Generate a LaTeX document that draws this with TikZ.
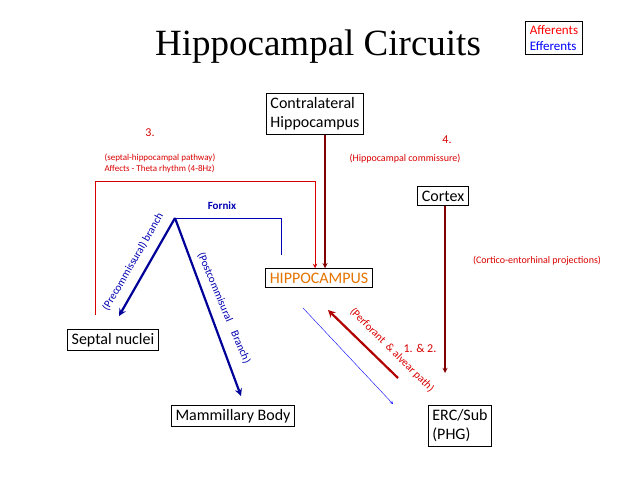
\documentclass[tikz,border=0pt]{standalone}
\usepackage{fontspec}
\setmainfont{Carlito}
\newfontfamily\titlefont{Liberation Serif}
\begin{document}
\begin{tikzpicture}[x=1pt,y=-1pt,
  box/.style={draw,line width=1pt,inner sep=4pt,font=\fontsize{16}{19}\selectfont,align=left},
  lab/.style={font=\fontsize{10}{12}\selectfont,text=red!85!black},
  blab/.style={font=\fontsize{11}{12}\selectfont,text=blue!70!black},
  rd/.style={red!85!black,line width=1pt},
  br/.style={red!50!black,line width=1.3pt}]
\useasboundingbox (0,0) rectangle (638,479);
\node[font=\titlefont\fontsize{37}{40}\selectfont] (title) at (318,47) {Hippocampal Circuits};
\node[draw,line width=1pt,align=left,font=\fontsize{13}{16}\selectfont,inner sep=4pt] (leg) at (554,38) {\textcolor{red}{Afferents}\\\textcolor{blue}{Efferents}};
\node[box] (contra) at (315,114) {Contralateral\\Hippocampus};
\node[box] (cortex) at (443,196) {Cortex};
\node[box,text=orange!90!black] (hipp) at (319,278) {HIPPOCAMPUS};
\node[box] (sept) at (113,340) {Septal nuclei};
\node[box] (mam) at (233,416) {Mammillary Body};
\node[box] (erc) at (460,426) {ERC/Sub\\(PHG)};
\coordinate (s0) at (95,315);
\coordinate (s1) at (95,181);
\coordinate (s2) at (315,181);
\draw[rd,-stealth] (s0) -- (s1) -- (s2) -- (s2 |- hipp.north);
\coordinate (c0) at (325,137);
\draw[br,-stealth] (c0 |- contra.south) -- (c0 |- hipp.north);
\coordinate (fx) at (175,218);
\draw[blue!70!black,line width=1pt] (fx) -- (281,218) -- (281,255);
\draw[blue!60!black,line width=2.2pt,-stealth] (fx) -- (119,316);
\draw[blue!60!black,line width=2.2pt,-stealth] (fx) -- (241,396);
\draw[blue,-stealth] (303,308) -- (393,404);
\draw[red!70!black,line width=2.2pt,-stealth] (398,378) -- (328,310);
\coordinate (k0) at (445,373);
\draw[br,-stealth] (k0 |- cortex.south) -- (k0);
\node[lab,font=\fontsize{12}{14}\selectfont] (n3) at (150,133) {3.};
\node[lab,align=left,anchor=west,font=\fontsize{9}{11}\selectfont] (sp) at (101,163) {(septal-hippocampal pathway)\\Affects - Theta rhythm (4-8Hz)};
\node[lab,font=\fontsize{12}{14}\selectfont] (n4) at (447,140) {4.};
\node[lab] (hc) at (405,159) {(Hippocampal commissure)};
\node[blab,font=\bfseries\fontsize{11}{12}\selectfont] (fo) at (222,206) {Fornix};
\node[lab] (ce) at (537,261) {(Cortico-entorhinal projections)};
\node[lab,font=\fontsize{12}{14}\selectfont] (n12) at (420,348) {1. \& 2.};
\node[blab,rotate=60] (pre) at (133,262) {(Precommissural) branch};
\node[blab,rotate=-67] (post) at (224,308) {(Postcommisural\quad Branch)};
\node[lab,rotate=-45,font=\fontsize{11}{12}\selectfont] (pa) at (392,350) {(Perforant \ \& alvear path)};
\end{tikzpicture}
\end{document}
